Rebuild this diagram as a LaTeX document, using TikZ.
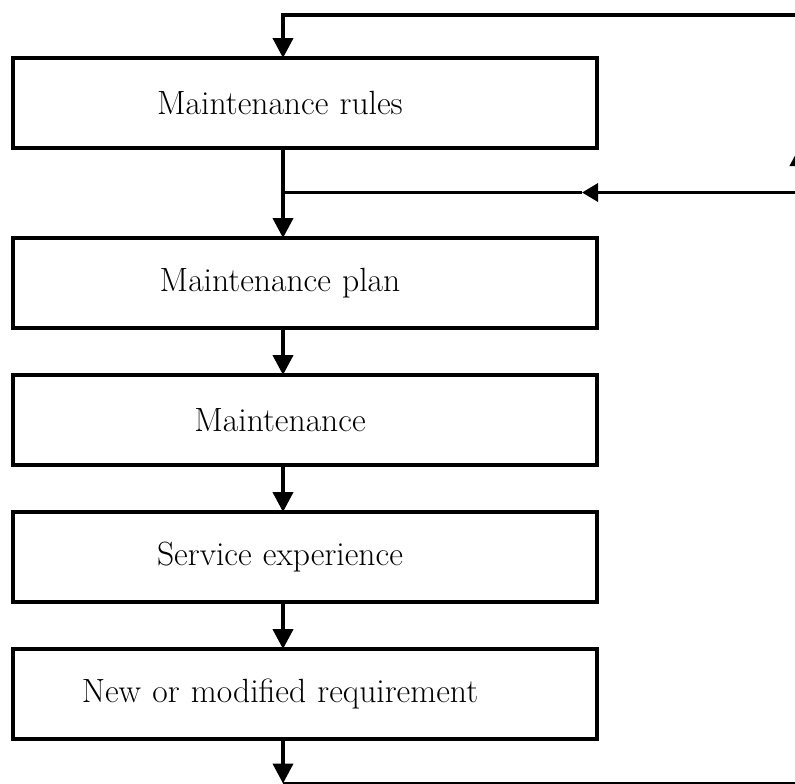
\documentclass[tikz,border=0pt]{standalone}
\usepackage{tikz}
\usetikzlibrary{arrows.meta}

\begin{document}
\begin{tikzpicture}[x=0.5pt,y=-0.5pt,>={Triangle[width=10pt,length=10pt]},line width=2pt,node distance=68.5pt,
  step box/.style={rectangle,draw,line width=2pt,outer sep=0pt,inner sep=0pt,minimum width=292pt,minimum height=45pt,
    text width=260pt,align=center,font=\fontsize{16.8}{20}\selectfont,execute at end node={\hspace*{25pt}}}]

  \useasboundingbox (0,0) rectangle (795,783);
  \clip (0,0) rectangle (795,783);

  \node[step box] (rules) at (305,103) {Maintenance rules};
  \node[step box] (plan) [below of=rules,node distance=90pt] {Maintenance plan};
  \node[step box] (maint) [below of=plan] {Maintenance};
  \node[step box] (service) [below of=maint] {Service experience};
  \node[step box] (req) [below of=service] {New or modified requirement};

  \coordinate (spine) at (283,0);
  \coordinate (eastTop) at (830,14.5);
  \coordinate (eastMid) at (830,192.5);
  \coordinate (midTip) at (582,192.5);
  \coordinate (eastBot) at (830,783.5);
  \coordinate (upFoot) at (800,192.5);
  \coordinate (upTip) at (800,146);

  \draw[->] (eastTop) -- (spine |- eastTop) -- (spine |- rules.north);
  \draw[->] (spine |- rules.south) -- (spine |- plan.north);
  \draw[->] (spine |- plan.south) -- (spine |- maint.north);
  \draw[->] (spine |- maint.south) -- (spine |- service.north);
  \draw[->] (spine |- service.south) -- (spine |- req.north);
  \draw[->] (spine |- req.south) -- (spine |- eastBot);
  \draw (spine |- eastBot) -- (eastBot);

  \draw[-{Triangle[width=9pt,length=8pt]},line width=1.7pt] (eastMid) -- (midTip);
  \draw[line width=1.7pt] (midTip) -- (spine |- eastMid);
  \draw[->] (upFoot) -- (upTip);
\end{tikzpicture}
\end{document}
